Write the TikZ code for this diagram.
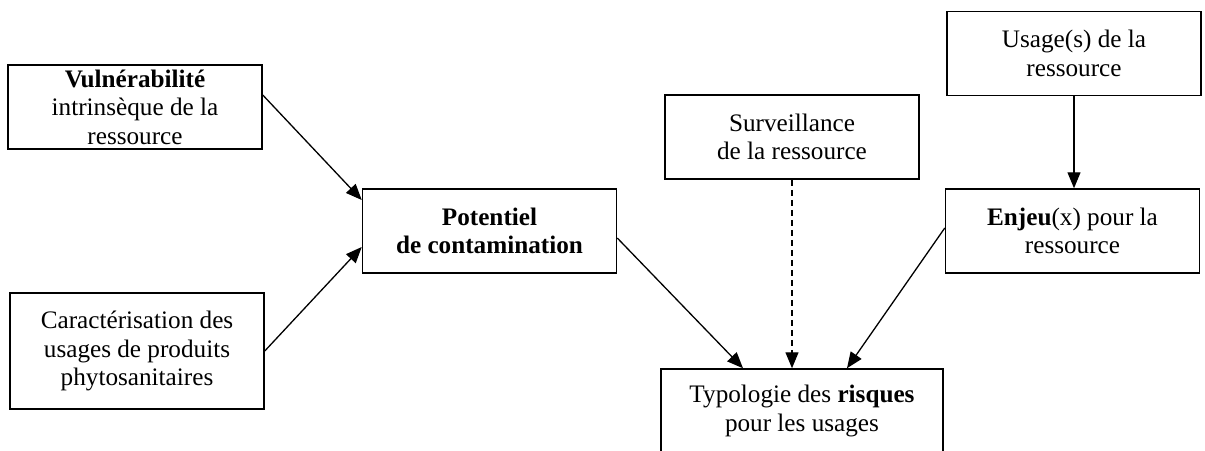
\documentclass[tikz,border=0pt]{standalone}
\usepackage{fontspec}
\setmainfont{Liberation Serif}
\usetikzlibrary{arrows.meta}

\begin{document}
\begin{tikzpicture}
  [x=0.5pt,y=-0.5pt,
   boxN/.style={rectangle,draw,line width=0.75pt,minimum width=127pt,minimum height=42pt,
                align=center,inner sep=2pt,font=\fontsize{12.6}{14.2}\selectfont},
   arrE/.style={line width=0.65pt,-{Triangle[length=8pt,width=6.5pt]}}]

  \useasboundingbox (0,0) rectangle (1205,450);

  \node[boxN] (vul) at (135,107) {\textbf{Vulnérabilité}\\intrinsèque de la\\ressource};
  \node[boxN,minimum height=58pt] (car) at (137,351) {Caractérisation des\\usages de produits\\phytosanitaires};
  \node[boxN] (pot) at (489.5,231) {\textbf{Potentiel}\\\textbf{de contamination}};
  \node[boxN] (sur) at (792,137) {Surveillance\\de la ressource};
  \node[boxN] (usa) at (1074,53.5) {Usage(s) de la\\ressource};
  \node[boxN] (enj) at (1072.5,231) {\textbf{Enjeu}(x) pour la\\ressource};
  \node[boxN,minimum width=141pt] (typ) at (802,411) {Typologie des \textbf{risques}\\pour les usages};

  \draw [arrE] ([yshift=6pt]vul.east) -- ([yshift=15.5pt]pot.west);
  \draw [arrE] (car.east) -- ([yshift=-8pt]pot.west);
  \draw [arrE] ([yshift=-3.5pt]pot.east) -- ([xshift=-29.5pt]typ.north);
  \draw [arrE,dash pattern=on 3pt off 2pt] (sur.south) -- (sur.south |- typ.north);
  \draw [arrE] (usa.south) -- (usa.south |- enj.north);
  \draw [arrE] ([yshift=1.5pt]enj.west) -- ([xshift=22.5pt]typ.north);
\end{tikzpicture}
\end{document}
